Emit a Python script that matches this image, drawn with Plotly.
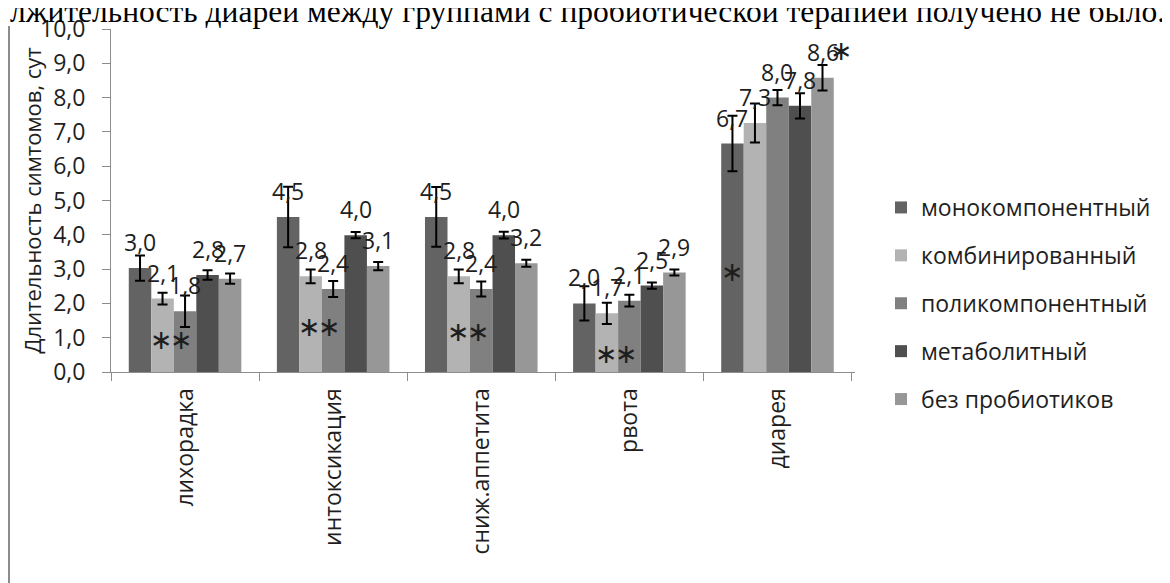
import plotly.graph_objects as go

categories = ["лихорадка", "интоксикация", "сниж.аппетита", "рвота", "диарея"]
series_names = ["монокомпонентный", "комбинированный", "поликомпонентный", "метаболитный", "без пробиотиков"]
colors = ["#636363", "#b3b3b3", "#808080", "#4f4f4f", "#979797"]

mono = [3.03, 4.52, 4.52, 2.00, 6.66]
comb = [2.14, 2.79, 2.79, 1.71, 7.26]
poly = [1.77, 2.42, 2.42, 2.08, 8.00]
metab = [2.83, 3.99, 3.99, 2.52, 7.76]
bez = [2.72, 3.09, 3.17, 2.90, 8.58]

mono_err = [0.37, 0.88, 0.87, 0.50, 0.81]
comb_err = [0.17, 0.20, 0.20, 0.31, 0.57]
poly_err = [0.46, 0.23, 0.22, 0.17, 0.22]
metab_err = [0.14, 0.09, 0.10, 0.09, 0.37]
bez_err = [0.15, 0.12, 0.10, 0.09, 0.37]

# significance marks: pairs of stars between "комбинированный" and "поликомпонентный"
pair_star_cats = ["лихорадка", "интоксикация", "сниж.аппетита", "рвота"]
pair_star_y = [0.94, 1.32, 1.18, 0.54]
single_star_cat = "диарея"
single_star_y = 2.92

y_title = "Длительность симтомов, сут"
top_text = "лжительность диареи между группами с пробиотической терапией получено не было."

values = [mono, comb, poly, metab, bez]
errors = [mono_err, comb_err, poly_err, metab_err, bez_err]

BARGAP = 0.24
NB = len(values)
bw = (1 - BARGAP) / NB

def bar_x(ci, k):
    return ci - (1 - BARGAP) / 2 + (k + 0.5) * bw

TXT = "#1e1e1e"
AX = "#8c8c8c"
FONT = "Open Sans"

fig = go.Figure()
for name, vals, errs, col in zip(series_names, values, errors, colors):
    fig.add_trace(go.Bar(
        x=categories, y=vals, name=name, legendgroup=name,
        marker=dict(color=col, line=dict(width=0)),
        error_y=dict(type="data", array=errs, visible=True, color="black", thickness=2, width=5),
    ))

annotations = []
for k, vals in enumerate(values):
    for ci, v in enumerate(vals):
        annotations.append(dict(
            x=bar_x(ci, k), y=v, xref="x", yref="y", text=f"{v:.1f}".replace(".", ","),
            showarrow=False, yshift=26, xanchor="center", yanchor="middle",
            font=dict(family=FONT, size=23, color=TXT)))

STAR_FONT = dict(family="DejaVu Sans", size=27, color=TXT)
for cat, yv in zip(pair_star_cats, pair_star_y):
    ci = categories.index(cat)
    xb = ci - (1 - BARGAP) / 2 + 2 * bw
    for dx in (-12, 8):
        annotations.append(dict(x=xb, y=yv, xref="x", yref="y", text="∗", showarrow=False,
                                xshift=dx, xanchor="center", yanchor="middle", font=STAR_FONT))
ci = categories.index(single_star_cat)
annotations.append(dict(x=bar_x(ci, 0), y=single_star_y, xref="x", yref="y", text="∗", showarrow=False,
                        xanchor="center", yanchor="middle", font=STAR_FONT))
annotations.append(dict(x=bar_x(ci, 4), y=bez[ci], xref="x", yref="y", text="∗", showarrow=False,
                        xshift=19, yshift=27, xanchor="center", yanchor="middle", font=STAR_FONT))

# page has an 8px body margin; margins below place the plot area at x 111-855, y 29-372 on the page
OFF = 8
W, H = 1170, 583
L, R, T, B = 111 - OFF, 315 + OFF, 29 - OFF, 211 + OFF
pw, ph = W - L - R, H - T - B

def px_x(page_x):
    return (page_x - OFF - L) / pw

def px_y(page_y):
    return (H - B - (page_y - OFF)) / ph

annotations.append(dict(x=px_x(31), y=0.5, xref="paper", yref="paper", text=y_title,
                        textangle=-90, showarrow=False, xanchor="center", yanchor="middle",
                        font=dict(family=FONT, size=22, color=TXT)))
annotations.append(dict(x=px_x(8), y=px_y(11), xref="paper", yref="paper", text=top_text,
                        showarrow=False, xanchor="left", yanchor="middle",
                        font=dict(family="Liberation Serif", size=31.5, color="black")))

fig.update_layout(
    width=W, height=H, autosize=False,
    margin=dict(l=L, r=R, t=T, b=B, pad=0, autoexpand=False),
    paper_bgcolor="white", plot_bgcolor="white",
    barmode="group", bargap=BARGAP, bargroupgap=0,
    separators=", ",
    showlegend=True,
    legend=dict(x=px_x(881), y=px_y(186), xanchor="left", yanchor="top",
                font=dict(family=FONT, size=23, color=TXT), traceorder="grouped",
                tracegroupgap=15, bgcolor="rgba(0,0,0,0)"),
    annotations=annotations,
    shapes=[dict(type="line", xref="paper", yref="paper", x0=px_x(9), x1=px_x(9),
                 y0=px_y(600), y1=px_y(26), line=dict(color="#8c8c8c", width=2))],
    xaxis=dict(showline=True, linecolor=AX, linewidth=1, ticks="outside", tickson="boundaries",
               ticklen=8, tickcolor=AX, tickangle=-90, showgrid=False, ticklabelstandoff=6,
               automargin=False, tickfont=dict(family=FONT, size=23, color=TXT)),
    yaxis=dict(range=[0, 10], dtick=1, tick0=0, tickformat=".1f", showline=True, linecolor=AX,
               linewidth=1, ticks="outside", ticklen=8, tickcolor=AX, showgrid=False, zeroline=False,
               ticklabelstandoff=12, automargin=False, tickfont=dict(family=FONT, size=23, color=TXT)),
)

fig.write_html("out.html")
